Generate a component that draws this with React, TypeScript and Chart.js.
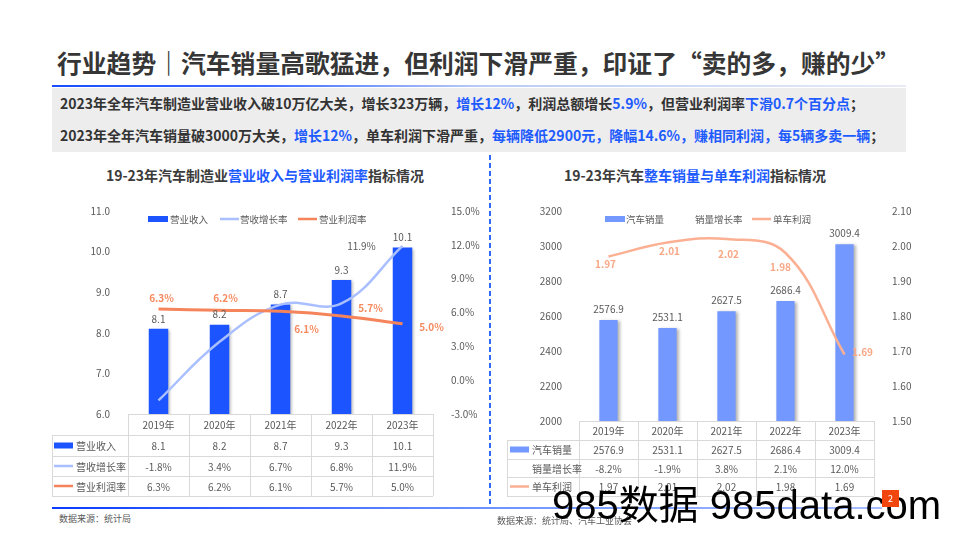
import React, { useEffect, useRef } from "react";
import { Chart, registerables } from "chart.js";

Chart.register(...registerables);

const FONT = "'Noto Sans CJK SC','Noto Sans',sans-serif";
Chart.defaults.font.family = FONT;

// ---------- data ----------
const years = ["2019年", "2020年", "2021年", "2022年", "2023年"];
const revenue = [8.1, 8.2, 8.7, 9.3, 10.1];
const revenueGrowth = [-1.8, 3.4, 6.7, 6.8, 11.9];
const profitMargin = [6.3, 6.2, 6.1, 5.7, 5.0];
const sales = [2576.9, 2531.1, 2627.5, 2686.4, 3009.4];
const salesGrowth = [-8.2, -1.9, 3.8, 2.1, 12.0];
const unitProfit = [1.97, 2.01, 2.02, 1.98, 1.69];

const leftTicks = [6, 11, 1];
const leftPctTicks = [-3, 15, 3];
const rightTicks = [2000, 3200, 200];
const rightProfitTicks = [1.5, 2.1, 0.1];

// ---------- colours ----------
const C_BAR1 = "#1C55FF";
const C_GROWTH1 = "#A9BFFF";
const C_PROFIT1 = "#F5845B";
const C_BAR2 = "#7398FF";
const C_PROFIT2 = "#FBB093";
const C_TEXT = "#595959";
const C_GRID = "#D9D9D9";

// ---------- plugins ----------
const shadowPlugin = {
  id: "barShadow",
  beforeDatasetDraw(chart: any, args: any) {
    if (chart.data.datasets[args.index].type !== "bar") return;
    const ctx = chart.ctx;
    ctx.save();
    ctx.shadowColor = "rgba(0,0,0,0.3)";
    ctx.shadowOffsetX = 2;
    ctx.shadowOffsetY = 1;
    ctx.shadowBlur = 3;
  },
  afterDatasetDraw(chart: any, args: any) {
    if (chart.data.datasets[args.index].type !== "bar") return;
    chart.ctx.restore();
  },
};

const labelPlugin = {
  id: "valueLabels",
  afterDatasetsDraw(chart: any, _a: any, opts: any) {
    const ctx = chart.ctx;
    (opts.specs || []).forEach((spec: any) => {
      const meta = chart.getDatasetMeta(spec.ds);
      const data = chart.data.datasets[spec.ds].data;
      meta.data.forEach((el: any, i: number) => {
        if (spec.show && !spec.show[i]) return;
        const off = spec.offsets ? spec.offsets[i] : [spec.dx || 0, spec.dy || 0];
        ctx.save();
        ctx.font = `${spec.bold ? "bold " : ""}${spec.size || 10}px ${FONT}`;
        ctx.fillStyle = spec.color;
        ctx.textAlign = "center";
        ctx.textBaseline = "middle";
        ctx.fillText(spec.format(data[i]), el.x + off[0], el.y + off[1]);
        ctx.restore();
      });
    });
  },
};

const legendPlugin = {
  id: "customLegend",
  afterDraw(chart: any, _a: any, opts: any) {
    if (!opts.items) return;
    const ctx = chart.ctx;
    ctx.save();
    ctx.font = `${opts.size}px ${FONT}`;
    ctx.textBaseline = "middle";
    ctx.textAlign = "left";
    opts.items.forEach((it: any) => {
      const ds = chart.data.datasets[it.ds];
      const type = ds.type;
      const color = type === "bar" ? ds.backgroundColor : ds.borderColor;
      if (type === "bar") {
        ctx.fillStyle = color;
        ctx.fillRect(it.x, opts.y - 3, 20, 6);
      } else if (color && color !== "transparent") {
        ctx.strokeStyle = color;
        ctx.lineWidth = 2.5;
        ctx.beginPath();
        ctx.moveTo(it.x, opts.y);
        ctx.lineTo(it.x + 19, opts.y);
        ctx.stroke();
      }
      ctx.fillStyle = C_TEXT;
      ctx.fillText(ds.label, it.tx, opts.y);
    });
    ctx.restore();
  },
};

const tablePlugin = {
  id: "dataTable",
  afterDraw(chart: any, _a: any, opts: any) {
    if (!opts.rows) return;
    const { ctx, chartArea } = chart;
    const xs = chart.scales.x;
    const labels = chart.data.labels as string[];
    const n = labels.length;
    const centers = labels.map((_: any, i: number) => xs.getPixelForValue(i));
    const step = centers[1] - centers[0];
    const colLeft = centers[0] - step / 2;
    const colRight = centers[n - 1] + step / 2;
    const ys: number[] = [chartArea.bottom];
    opts.rowHeights.forEach((h: number) => ys.push(ys[ys.length - 1] + h));
    const bottom = ys[ys.length - 1];
    ctx.save();
    ctx.strokeStyle = C_GRID;
    ctx.lineWidth = 1;
    ctx.beginPath();
    ctx.moveTo(colLeft, Math.round(ys[0]) + 0.5);
    ctx.lineTo(colRight, Math.round(ys[0]) + 0.5);
    for (let i = 0; i <= n; i++) {
      const x = Math.round(colLeft + i * step) + 0.5;
      ctx.moveTo(x, ys[0]);
      ctx.lineTo(x, bottom);
    }
    for (let r = 1; r < ys.length; r++) {
      const y = Math.round(ys[r]) + 0.5;
      ctx.moveTo(opts.left, y);
      ctx.lineTo(colRight, y);
    }
    ctx.moveTo(opts.left + 0.5, ys[1]);
    ctx.lineTo(opts.left + 0.5, bottom);
    ctx.stroke();

    ctx.font = `${opts.size}px ${FONT}`;
    ctx.fillStyle = C_TEXT;
    ctx.textBaseline = "middle";
    ctx.textAlign = "center";
    labels.forEach((l: string, i: number) => ctx.fillText(l, centers[i], (ys[0] + ys[1]) / 2 + 1));
    opts.rows.forEach((row: any, r: number) => {
      const cy = (ys[r + 1] + ys[r + 2]) / 2 + 1;
      ctx.textAlign = "center";
      ctx.fillStyle = C_TEXT;
      row.values.forEach((v: string, i: number) => ctx.fillText(v, centers[i], cy));
      if (row.swatch === "bar") {
        ctx.fillStyle = row.color;
        ctx.fillRect(opts.swatchX, cy - 4, 19, 6);
      } else if (row.swatch === "line") {
        ctx.strokeStyle = row.color;
        ctx.lineWidth = 2.5;
        ctx.beginPath();
        ctx.moveTo(opts.swatchX, cy - 1);
        ctx.lineTo(opts.swatchX + 19, cy - 1);
        ctx.stroke();
      }
      ctx.fillStyle = C_TEXT;
      ctx.textAlign = "left";
      ctx.fillText(row.label, opts.labelX, cy);
    });
    ctx.restore();
  },
};

const axisBase = (color: string) => ({
  grid: { display: false },
  border: { display: false },
  ticks: { color, font: { size: 10 }, padding: 10 },
});

function LeftChart() {
  const ref = useRef<HTMLCanvasElement>(null);
  useEffect(() => {
    const chart = new Chart(ref.current as HTMLCanvasElement, {
      type: "bar",
      data: {
        labels: years,
        datasets: [
          { type: "bar", label: "营业收入", data: revenue, backgroundColor: C_BAR1, yAxisID: "y", order: 3, barPercentage: 0.32, categoryPercentage: 1 } as any,
          { type: "line", label: "营收增长率", data: revenueGrowth, borderColor: C_GROWTH1, borderWidth: 2.5, pointRadius: 0, tension: 0.4, yAxisID: "y1", order: 2 },
          { type: "line", label: "营业利润率", data: profitMargin, borderColor: C_PROFIT1, borderWidth: 3, pointRadius: 0, tension: 0.4, yAxisID: "y1", order: 1 },
        ],
      },
      options: {
        animation: false,
        responsive: false,
        maintainAspectRatio: false,
        layout: { padding: { top: 14, bottom: 86, left: 0, right: 0 } },
        scales: {
          x: { display: false, offset: true },
          y: {
            position: "left", min: leftTicks[0], max: leftTicks[1],
            ...axisBase(C_TEXT),
            ticks: { ...axisBase(C_TEXT).ticks, stepSize: leftTicks[2], callback: (v: any) => Number(v).toFixed(1) },
            afterFit: (s: any) => { s.width = 88; },
          },
          y1: {
            position: "right", min: leftPctTicks[0], max: leftPctTicks[1],
            ...axisBase(C_TEXT),
            ticks: { ...axisBase(C_TEXT).ticks, stepSize: leftPctTicks[2], callback: (v: any) => Number(v).toFixed(1) + "%" },
            afterFit: (s: any) => { s.width = 47; },
          },
        } as any,
        plugins: {
          legend: { display: false },
          tooltip: { enabled: false },
          valueLabels: {
            specs: [
              { ds: 0, dy: -10, color: C_TEXT, format: (v: number) => v.toFixed(1) },
              { ds: 1, show: [false, false, false, false, true], offsets: [[0, 0], [0, 0], [0, 0], [0, 0], [-41, 0]], color: C_TEXT, format: (v: number) => v.toFixed(1) + "%" },
              { ds: 2, bold: true, color: "#F68A5E", offsets: [[3, -11], [6, -12], [26, 18], [29, -8], [29, 3]], format: (v: number) => v.toFixed(1) + "%" },
            ],
          },
          customLegend: {
            y: 24, size: 9.5,
            items: [ { ds: 0, x: 108, tx: 130 }, { ds: 1, x: 180, tx: 200 }, { ds: 2, x: 258, tx: 279 } ],
          },
          dataTable: {
            left: 12, swatchX: 14, labelX: 36, size: 10,
            rowHeights: [21, 21, 20, 20],
            rows: [
              { label: "营业收入", swatch: "bar", color: C_BAR1, values: revenue.map((v) => v.toFixed(1)) },
              { label: "营收增长率", swatch: "line", color: C_GROWTH1, values: revenueGrowth.map((v) => v.toFixed(1) + "%") },
              { label: "营业利润率", swatch: "line", color: C_PROFIT1, values: profitMargin.map((v) => v.toFixed(1) + "%") },
            ],
          },
        } as any,
      },
      plugins: [shadowPlugin, labelPlugin, legendPlugin, tablePlugin],
    });
    return () => chart.destroy();
  }, []);
  return <canvas ref={ref} width={440} height={305} style={{ position: "absolute", left: 40, top: 195, width: 440, height: 305 }} />;
}

function RightChart() {
  const ref = useRef<HTMLCanvasElement>(null);
  useEffect(() => {
    const chart = new Chart(ref.current as HTMLCanvasElement, {
      type: "bar",
      data: {
        labels: years,
        datasets: [
          { type: "bar", label: "汽车销量", data: sales, backgroundColor: C_BAR2, yAxisID: "y", order: 3, barPercentage: 0.31, categoryPercentage: 1 } as any,
          { type: "line", label: "销量增长率", data: salesGrowth, borderColor: "transparent", borderWidth: 0, pointRadius: 0, yAxisID: "yg", order: 2 },
          { type: "line", label: "单车利润", data: unitProfit, borderColor: C_PROFIT2, borderWidth: 2.5, pointRadius: 0, tension: 0.4, yAxisID: "y1", order: 1 },
        ],
      },
      options: {
        animation: false,
        responsive: false,
        maintainAspectRatio: false,
        layout: { padding: { top: 14, bottom: 79, left: 0, right: 0 } },
        scales: {
          x: { display: false, offset: true },
          y: {
            position: "left", min: rightTicks[0], max: rightTicks[1],
            ...axisBase(C_TEXT),
            ticks: { ...axisBase(C_TEXT).ticks, padding: 9, stepSize: rightTicks[2], callback: (v: any) => String(Math.round(Number(v))) },
            afterFit: (s: any) => { s.width = 89; },
          },
          y1: {
            position: "right", min: rightProfitTicks[0], max: rightProfitTicks[1],
            ...axisBase(C_TEXT),
            ticks: { ...axisBase(C_TEXT).ticks, stepSize: rightProfitTicks[2], callback: (v: any) => Number(v).toFixed(2) },
            afterFit: (s: any) => { s.width = 86; },
          },
          yg: { display: false, min: -10, max: 15 },
        } as any,
        plugins: {
          legend: { display: false },
          tooltip: { enabled: false },
          valueLabels: {
            specs: [
              { ds: 0, dy: -11, color: C_TEXT, format: (v: number) => v.toFixed(1) },
              { ds: 2, bold: true, color: "#F8A886", offsets: [[-3, 8], [2, 9], [2, 15], [-5, 14], [18, -2]], format: (v: number) => v.toFixed(2) },
            ],
          },
          customLegend: {
            y: 24, size: 9.5,
            items: [ { ds: 0, x: 115, tx: 136 }, { ds: 1, x: 185, tx: 205 }, { ds: 2, x: 262, tx: 283 } ],
          },
          dataTable: {
            left: 17, swatchX: 20, labelX: 42, size: 10,
            rowHeights: [19, 19, 18, 19],
            rows: [
              { label: "汽车销量", swatch: "bar", color: C_BAR2, values: sales.map((v) => v.toFixed(1)) },
              { label: "销量增长率", swatch: null, color: "", values: salesGrowth.map((v) => v.toFixed(1) + "%") },
              { label: "单车利润", swatch: "line", color: C_PROFIT2, values: unitProfit.map((v) => v.toFixed(2)) },
            ],
          },
        } as any,
      },
      plugins: [shadowPlugin, labelPlugin, legendPlugin, tablePlugin],
    });
    return () => chart.destroy();
  }, []);
  return <canvas ref={ref} width={470} height={305} style={{ position: "absolute", left: 490, top: 195, width: 470, height: 305 }} />;
}

const BLUE = "#1E5BFF";
const DARK = "#333333";

export default function App() {
  const abs = (s: React.CSSProperties): React.CSSProperties => ({ position: "absolute", whiteSpace: "nowrap", ...s });
  return (
    <div style={{ position: "absolute", left: 0, top: 0, width: 960, height: 540, background: "#fff", overflow: "hidden", fontFamily: FONT }}>
      <div style={abs({ left: 57, top: 46, fontSize: 24.8, fontWeight: 700, color: "#363636", lineHeight: "32px" })}>
        行业趋势｜汽车销量高歌猛进，但利润下滑严重，印证了“卖的多，赚的少”
      </div>
      <div style={abs({ left: 52, top: 85, width: 854, height: 2, background: "linear-gradient(to right, #1A4DFF 0%, #3D6BFF 25%, #B9CBF5 50%, #E6EBF5 100%)" })} />
      <div style={abs({ left: 52, top: 88, width: 854, height: 64, background: "#EDEDED" })} />
      <div style={abs({ left: 60, top: 93, fontSize: 14, fontWeight: 700, color: DARK, lineHeight: "20px" })}>
        2023年全年汽车制造业营业收入破10万亿大关，增长323万辆，<span style={{ color: BLUE }}>增长12%</span>，利润总额增长<span style={{ color: BLUE }}>5.9%</span>，但营业利润率<span style={{ color: BLUE }}>下滑0.7个百分点</span>；
      </div>
      <div style={abs({ left: 60, top: 125, fontSize: 14, fontWeight: 700, color: DARK, lineHeight: "20px" })}>
        2023年全年汽车销量破3000万大关，<span style={{ color: BLUE }}>增长12%</span>，单车利润下滑严重，<span style={{ color: BLUE }}>每辆降低2900元，降幅14.6%，赚相同利润，每5辆多卖一辆</span>；
      </div>
      <div style={abs({ left: 489, top: 155, width: 2, height: 350, background: "repeating-linear-gradient(to bottom, #2F6BFF 0px, #2F6BFF 5px, transparent 5px, transparent 8px)" })} />

      <div style={abs({ left: 40, top: 165, width: 450, textAlign: "center", fontSize: 14, fontWeight: 700, color: "#3B3B3B", lineHeight: "20px" })}>
        19-23年汽车制造业<span style={{ color: BLUE }}>营业收入与营业利润率</span>指标情况
      </div>
      <div style={abs({ left: 490, top: 165, width: 410, textAlign: "center", fontSize: 14, fontWeight: 700, color: "#3B3B3B", lineHeight: "20px" })}>
        19-23年汽车<span style={{ color: BLUE }}>整车销量与单车利润</span>指标情况
      </div>

      <LeftChart />
      <RightChart />

      <div style={abs({ left: 52, top: 507, width: 438, height: 2, background: "linear-gradient(to right, #0A3CFF, #6D93FF)" })} />
      <div style={abs({ left: 490, top: 507, width: 392, height: 2, background: "linear-gradient(to right, #6D93FF, #A9BEFF)" })} />
      <div style={abs({ left: 59, top: 512, fontSize: 9, color: C_TEXT, lineHeight: "14px" })}>数据来源：统计局</div>
      <div style={abs({ left: 497, top: 514, fontSize: 9, color: C_TEXT, lineHeight: "14px" })}>数据来源：统计局、汽车工业协会</div>
      <div style={abs({ left: 552, top: 485, fontSize: 40, color: "#000", lineHeight: "40px", fontFamily: "'Liberation Sans','Noto Sans CJK SC',sans-serif" })}>985数据 985data.com</div>
      <div style={abs({ left: 882, top: 490, width: 17, height: 17, background: "#F2460F", color: "#fff", fontSize: 9, lineHeight: "17px", textAlign: "center" })}>2</div>
    </div>
  );
}
